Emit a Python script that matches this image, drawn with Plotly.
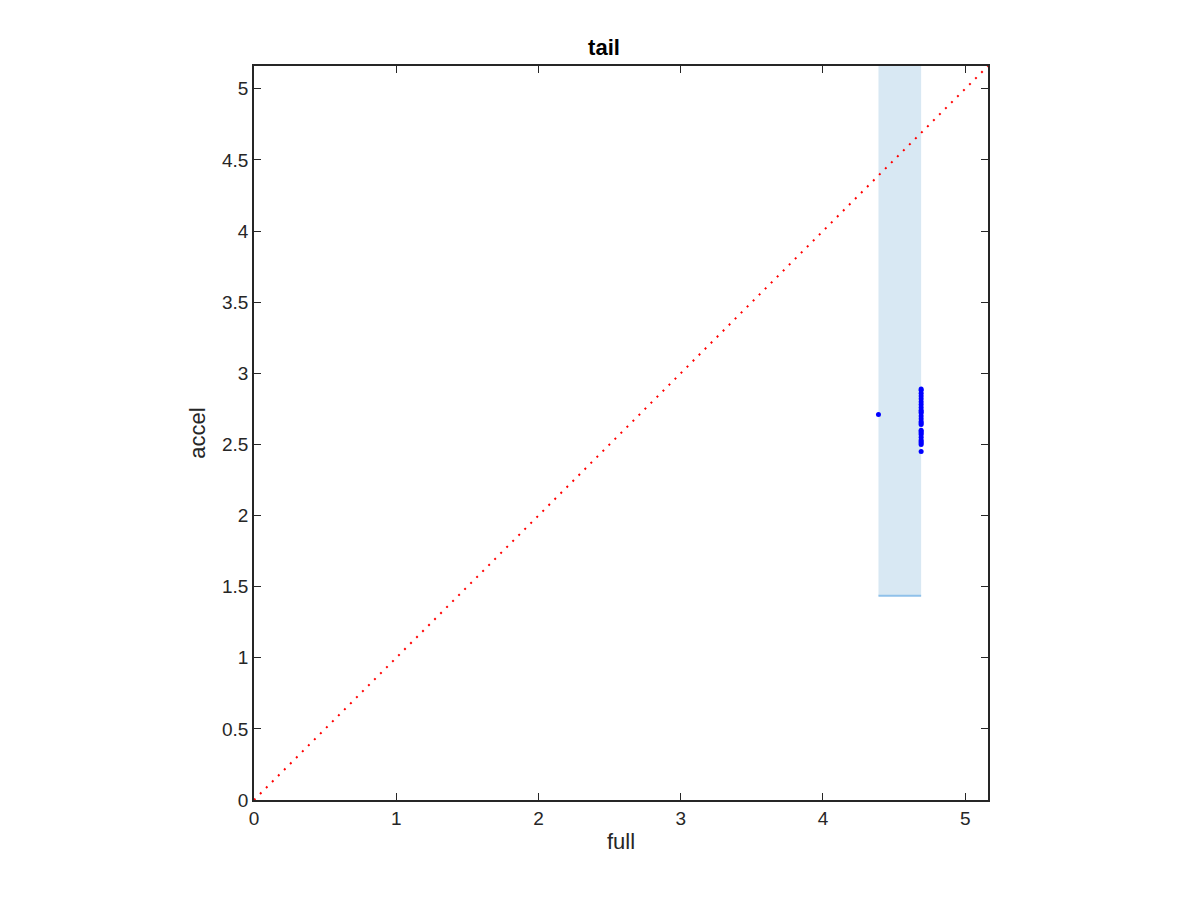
import plotly.graph_objects as go

# data
pts_x = [4.39] + [4.69] * 26
pts_y = [2.71, 2.45, 2.50, 2.51, 2.52, 2.53, 2.55, 2.57, 2.58, 2.59, 2.60, 2.64,
         2.65, 2.66, 2.68, 2.70, 2.72, 2.73, 2.74, 2.76, 2.78, 2.80, 2.82, 2.84,
         2.86, 2.88, 2.89]
band_x = [4.39, 4.69]
band_y_low = 1.435
axis_max = 5.16
diag = [0, axis_max]

FONT = "Liberation Sans, Arial, Helvetica, sans-serif"

fig = go.Figure()
# shaded band
fig.add_trace(go.Scatter(
    x=[band_x[0], band_x[1], band_x[1], band_x[0], band_x[0]],
    y=[band_y_low, band_y_low, axis_max, axis_max, band_y_low],
    fill="toself", fillcolor="rgba(216,232,243,1)", line=dict(width=0),
    mode="lines", hoverinfo="skip", showlegend=False))
fig.add_trace(go.Scatter(
    x=band_x, y=[band_y_low, band_y_low], mode="lines",
    line=dict(color="#8fc1ea", width=2), showlegend=False))
# diagonal
fig.add_trace(go.Scatter(
    x=diag, y=diag, mode="lines",
    line=dict(color="red", width=2, dash="2px,6.5px"), showlegend=False))
# points
fig.add_trace(go.Scatter(
    x=pts_x, y=pts_y, mode="markers",
    marker=dict(color="blue", size=5), showlegend=False))

axis_common = dict(
    range=[0, axis_max], showgrid=False, zeroline=False,
    showline=True, linecolor="#262626", linewidth=1.5, mirror="allticks",
    ticks="inside", ticklen=7, tickcolor="#262626", tickwidth=1,
    tickfont=dict(family=FONT, size=19, color="#262626"),
    title_font=dict(family=FONT, size=22, color="#262626"),
)
fig.update_xaxes(**axis_common, dtick=1, title_text="full", title_standoff=6)
fig.update_yaxes(**axis_common, dtick=0.5, title_text="accel", title_standoff=10)

fig.update_layout(
    width=1200, height=900,
    margin=dict(l=246, r=220, t=58, b=108),
    plot_bgcolor="white", paper_bgcolor="white",
    title=dict(text="<b>tail</b>", x=0.5 - 4/1200, xanchor="center",
               y=1 - 39/900, yanchor="middle",
               font=dict(family=FONT, size=22, color="black")),
)
fig.write_html("out.html")
